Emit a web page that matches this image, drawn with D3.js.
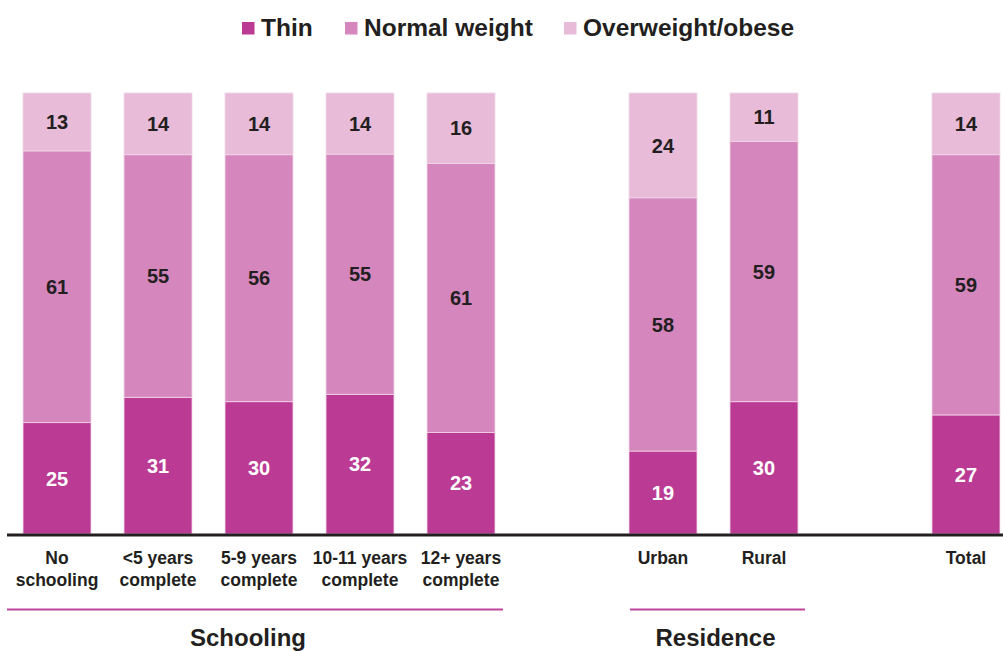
<!DOCTYPE html>
<html>
<head>
<meta charset="utf-8">
<script src="https://cdn.jsdelivr.net/npm/d3@7"></script>
<style>
  body { margin: 0; background: #fff; }
  svg text { font-family: "Liberation Sans", Arial, sans-serif; font-weight: bold; fill: #231f20; }
</style>
</head>
<body>
<div id="the_chart"></div>
<script>
// slots along the axis; gap1/gap2 are empty spacer slots
var slots = ["No schooling", "<5 years complete", "5-9 years complete", "10-11 years complete", "12+ years complete", "gap1", "Urban", "Rural", "gap2", "Total"];
var categories = ["No schooling", "<5 years complete", "5-9 years complete", "10-11 years complete", "12+ years complete", "Urban", "Rural", "Total"];
var labelLines = [["No", "schooling"], ["<5 years", "complete"], ["5-9 years", "complete"], ["10-11 years", "complete"], ["12+ years", "complete"], ["Urban"], ["Rural"], ["Total"]];
var thin = [25, 31, 30, 32, 23, 19, 30, 27];
var normal = [61, 55, 56, 55, 61, 58, 59, 59];
var overweight = [13, 14, 14, 14, 16, 24, 11, 14];
var seriesNames = ["Thin", "Normal weight", "Overweight/obese"];
var groups = [
  { name: "Schooling", from: "No schooling", to: "12+ years complete", pad0: -16, pad1: 8, shift: -7 },
  { name: "Residence", from: "Urban", to: "Rural", pad0: 1, pad1: 7, shift: -2 }
];

var colors = ["#bb3a94", "#d586bd", "#e8bbd9"];

function gen_vis() {
  var w = 1003, h = 651;
  var base = 534, top = 93;

  var svg = d3.select("#the_chart").append("svg")
    .attr("width", w)
    .attr("height", h);

  var rows = categories.map(function (c, i) {
    return { cat: c, "Thin": thin[i], "Normal weight": normal[i], "Overweight/obese": overweight[i] };
  });

  var stack = d3.stack().keys(seriesNames).offset(d3.stackOffsetExpand);
  var series = stack(rows);

  var xscale = d3.scaleBand()
    .domain(slots)
    .range([-10, 1033])
    .paddingInner(0.327)
    .paddingOuter(0.327);

  var yscale = d3.scaleLinear()
    .domain([0, 1])
    .range([base, top]);

  var bw = xscale.bandwidth();

  var layer = svg.selectAll("g.layer")
    .data(series)
    .enter().append("g")
    .attr("class", "layer")
    .attr("fill", function (d, i) { return colors[i]; });

  layer.selectAll("rect")
    .data(function (d) { return d; })
    .enter().append("rect")
    .attr("x", function (d) { return xscale(d.data.cat); })
    .attr("y", function (d) { return yscale(d[1]); })
    .attr("width", bw)
    .attr("height", function (d) { return yscale(d[0]) - yscale(d[1]); })
    .attr("stroke", "#f1d6e8")
    .attr("stroke-width", 0.8);

  // value labels
  series.forEach(function (s, si) {
    svg.selectAll("text.v" + si)
      .data(s)
      .enter().append("text")
      .attr("class", "v" + si)
      .attr("x", function (d) { return xscale(d.data.cat) + bw / 2; })
      .attr("y", function (d) { return (yscale(d[0]) + yscale(d[1])) / 2; })
      .attr("dy", "0.36em")
      .attr("text-anchor", "middle")
      .style("font-size", "20px")
      .style("fill", si == 0 ? "#ffffff" : "#231f20")
      .text(function (d) { return d.data[s.key]; });
  });

  // baseline
  svg.append("line")
    .attr("x1", 7).attr("x2", w)
    .attr("y1", base + 1).attr("y2", base + 1)
    .attr("stroke", "#231f20")
    .attr("stroke-width", 3);

  // category labels
  var cl = svg.selectAll("text.cat")
    .data(categories)
    .enter().append("text")
    .attr("class", "cat")
    .attr("text-anchor", "middle")
    .attr("x", function (d) { return xscale(d) + bw / 2; })
    .attr("y", 564)
    .style("font-size", "17.5px");
  cl.each(function (d, i) {
    var t = d3.select(this);
    labelLines[i].forEach(function (line, j) {
      t.append("tspan")
        .attr("x", xscale(d) + bw / 2)
        .attr("dy", j == 0 ? 0 : 22)
        .text(line);
    });
  });

  // group brackets
  groups.forEach(function (g) {
    var x0 = xscale(g.from) + g.pad0;
    var x1 = xscale(g.to) + bw + g.pad1;
    svg.append("line")
      .attr("x1", x0).attr("x2", x1)
      .attr("y1", 609.5).attr("y2", 609.5)
      .attr("stroke", "#c0449c")
      .attr("stroke-width", 2.2);
    svg.append("text")
      .attr("x", (x0 + x1) / 2 + g.shift)
      .attr("y", 646)
      .attr("text-anchor", "middle")
      .style("font-size", "24px")
      .text(g.name);
  });

  // legend
  var legendX = [242, 345, 564];
  var legend = svg.selectAll("g.legend")
    .data(seriesNames)
    .enter().append("g")
    .attr("class", "legend")
    .attr("transform", function (d, i) { return "translate(" + legendX[i] + ",0)"; });
  legend.append("rect")
    .attr("x", 0).attr("y", 22)
    .attr("width", 12.5).attr("height", 12.5)
    .attr("fill", function (d, i) { return colors[i]; });
  legend.append("text")
    .attr("x", 19)
    .attr("y", 36)
    .style("font-size", "24.5px")
    .text(function (d) { return d; });
}

gen_vis();
</script>
</body>
</html>
